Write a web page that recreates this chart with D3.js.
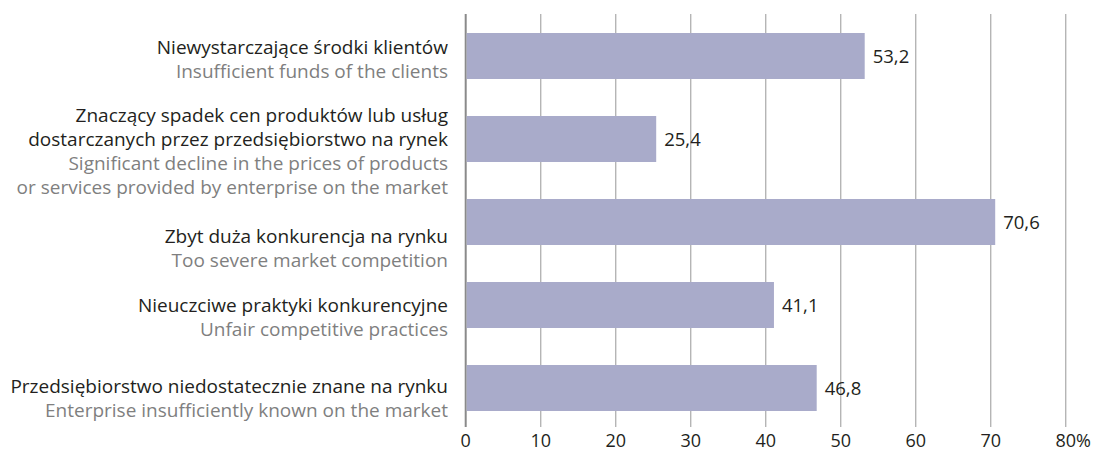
<!DOCTYPE html>
<html><head><meta charset="utf-8">
<script src="https://cdn.jsdelivr.net/npm/d3@7"></script>
<style>
html,body{margin:0;padding:0;background:#fff;}
svg text{font-family:"Open Sans","DejaVu Sans",sans-serif;}
</style></head>
<body><svg id="chart" width="1095" height="452"></svg>
<script>
// ---- data ----
const labelsPL = [
  ["Niewystarczające środki klientów"],
  ["Znaczący spadek cen produktów lub usług", "dostarczanych przez przedsiębiorstwo na rynek"],
  ["Zbyt duża konkurencja na rynku"],
  ["Nieuczciwe praktyki konkurencyjne"],
  ["Przedsiębiorstwo niedostatecznie znane na rynku"]
];
const labelsEN = [
  ["Insufficient funds of the clients"],
  ["Significant decline in the prices of products", "or services provided by enterprise on the market"],
  ["Too severe market competition"],
  ["Unfair competitive practices"],
  ["Enterprise insufficiently known on the market"]
];
const values = [53.2, 25.4, 70.6, 41.1, 46.8];
const tickValues = [0, 10, 20, 30, 40, 50, 60, 70, 80];
const tickUnit = "%";

// ---- layout ----
const svg = d3.select("#chart");
const x = d3.scaleLinear().domain([0, 80]).range([465.7, 1065.7]);
const idx = values.map((d, i) => i);
const y = d3.scaleBand().domain(idx).range([33, 411]).paddingInner(0.4458).paddingOuter(0);
const labelShift = [3, 12, 26, 12, 10];
const lineH = 24;
const fmt = d => d.toFixed(1).replace(".", ",");

// gridlines
svg.append("g").selectAll("line").data(tickValues).join("line")
  .attr("x1", d => x(d)).attr("x2", d => x(d))
  .attr("y1", 14).attr("y2", 427)
  .attr("stroke", d => d === 0 ? "#8a8a8a" : "#b5b5b5")
  .attr("stroke-width", d => d === 0 ? 2 : 1.4);

// bars
svg.append("g").selectAll("rect").data(values).join("rect")
  .attr("x", x(0) + 1).attr("y", (d, i) => y(i))
  .attr("width", d => x(d) - x(0) - 1).attr("height", y.bandwidth())
  .attr("fill", "#a9abca");

// value labels
svg.append("g").selectAll("text").data(values).join("text")
  .attr("x", d => x(d) + 8).attr("y", (d, i) => y(i) + y.bandwidth() / 2 + 7)
  .attr("font-size", 18.5).attr("fill", "#231f20")
  .text(fmt);

// category labels
const lab = svg.append("g");
idx.forEach(i => {
  const lines = labelsPL[i].map(t => ({t, c: "#231f20"})).concat(labelsEN[i].map(t => ({t, c: "#7f7f7f"})));
  const cy = y(i) + y.bandwidth() / 2 + labelShift[i];
  const top = cy - (lines.length - 1) * lineH / 2;
  lines.forEach((l, j) => {
    lab.append("text").attr("x", 448).attr("y", top + j * lineH + 7)
      .attr("text-anchor", "end").attr("font-size", 19).attr("fill", l.c).text(l.t);
  });
});

// axis tick labels
const ax = svg.append("g");
tickValues.forEach((v, i) => {
  const t = ax.append("text").attr("x", x(v)).attr("y", 447)
    .attr("text-anchor", "middle").attr("font-size", 18).attr("fill", "#231f20").text(v);
  if (i === tickValues.length - 1) {
    const w = t.node().getComputedTextLength();
    ax.append("text").attr("x", x(v) + w / 2).attr("y", 447)
      .attr("font-size", 18).attr("fill", "#231f20").text(tickUnit);
  }
});
</script></body></html>
